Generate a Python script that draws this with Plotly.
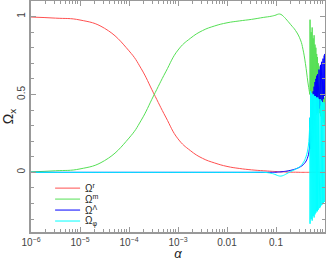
import plotly.graph_objects as go

# ---- smooth part (scale factor a) ----
a_smooth = [1e-6, 3.16e-6, 1e-5, 3.16e-5, 1e-4, 1.78e-4, 3.16e-4, 5.62e-4, 1e-3, 1.78e-3,
            3.16e-3, 5.62e-3, 1e-2, 1.78e-2, 3.16e-2, 5.62e-2, 0.0794, 0.1, 0.112, 0.126,
            0.141, 0.158, 0.2, 0.251, 0.316, 0.355, 0.398, 0.447, 0.479, 0.49]
omega_r_s = [0.997, 0.99, 0.978, 0.925, 0.78, 0.665, 0.51, 0.355, 0.215, 0.14,
             0.09, 0.06, 0.038, 0.025, 0.016, 0.01, 0.007, 0.005, 0.004, 0.003,
             0.003, 0.002, 0.001, 0.001, 0.0, 0.0, 0.0, 0.0, 0.0, 0.0]
omega_m_s = [0.003, 0.01, 0.022, 0.075, 0.22, 0.335, 0.49, 0.645, 0.785, 0.86,
             0.91, 0.94, 0.96, 0.972, 0.982, 0.995, 1.002, 1.010, 1.016, 1.014,
             1.002, 0.986, 0.948, 0.91, 0.85, 0.79, 0.70, 0.58, 0.52, 0.50]
omega_L_s = [0.0, 0.0, 0.0, 0.0, 0.0, 0.0, 0.0, 0.0, 0.0, 0.0,
             0.0, 0.0, 0.0, 0.0, 0.0, 0.0, 0.0, 0.001, 0.002, 0.003,
             0.005, 0.007, 0.013, 0.022, 0.036, 0.048, 0.065, 0.10, 0.15, 0.19]
omega_p_s = [0.0, 0.0, 0.0, 0.0, 0.0, 0.0, 0.0, 0.0, 0.0, 0.0,
             0.0, 0.0, 0.0, 0.0, 0.0, 0.0, -0.006, -0.016, -0.022, -0.024,
             -0.02, -0.012, 0.005, 0.02, 0.04, 0.06, 0.09, 0.15, 0.25, 0.35]

# ---- oscillating late-time part ----
a_osc = [0.49, 0.495, 0.508, 0.521, 0.534, 0.547, 0.560, 0.573, 0.586, 0.599, 0.612,
         0.625, 0.638, 0.651, 0.664, 0.677, 0.690, 0.703, 0.716, 0.729, 0.742,
         0.755, 0.768, 0.781, 0.794, 0.807, 0.820, 0.833, 0.846, 0.859, 0.872,
         0.885, 0.898, 0.911, 0.924, 0.937, 0.950, 0.963, 0.976, 0.989, 1.0]
omega_r_o = [0.0] * 41
omega_m_o = [0.50, 0.98, 0.48, 0.90, 0.47, 0.93, 0.46, 0.86, 0.45, 0.88, 0.44,
             0.82, 0.43, 0.80, 0.42, 0.76, 0.41, 0.74, 0.40, 0.70, 0.39,
             0.68, 0.38, 0.65, 0.37, 0.62, 0.36, 0.60, 0.35, 0.58, 0.34,
             0.56, 0.33, 0.54, 0.32, 0.52, 0.31, 0.50, 0.30, 0.48, 0.30]
omega_L_o = [0.19, 0.35, 0.15, 0.42, 0.20, 0.48, 0.25, 0.52, 0.30, 0.55, 0.33,
             0.58, 0.35, 0.60, 0.37, 0.62, 0.38, 0.63, 0.39, 0.65, 0.40,
             0.66, 0.41, 0.68, 0.42, 0.69, 0.43, 0.70, 0.44, 0.71, 0.45,
             0.72, 0.46, 0.73, 0.47, 0.74, 0.48, 0.75, 0.49, 0.76, 0.75]
omega_p_o = [0.35, -0.33, 0.52, -0.30, 0.51, -0.31, 0.50, -0.28, 0.50, -0.29, 0.49,
             -0.27, 0.49, -0.26, 0.48, -0.25, 0.48, -0.25, 0.48, -0.24, 0.47,
             -0.23, 0.47, -0.23, 0.47, -0.22, 0.46, -0.21, 0.46, -0.21, 0.46,
             -0.20, 0.45, -0.20, 0.45, -0.19, 0.45, -0.19, 0.45, -0.18, 0.44]

names = ["Ω<sup>r</sup>", "Ω<sup>m</sup>", "Ω<sup>Λ</sup>", "Ω<sub>φ</sub>"]
colors = ["#ff5050", "#55e055", "#0000ff", "#00ffff"]
series = [(omega_r_s, omega_r_o), (omega_m_s, omega_m_o),
          (omega_L_s, omega_L_o), (omega_p_s, omega_p_o)]

x_tickvals = [1e-6, 1e-5, 1e-4, 1e-3, 0.01, 0.1, 1]
x_ticktext = ["10<sup>−6</sup>", "10<sup>−5</sup>", "10<sup>−4</sup>",
              "10<sup>−3</sup>", "0.01", "0.1", "1"]
y_tickvals = [0, 0.5, 1]
y_ticktext = ["0", "0.5", "1"]

fig = go.Figure()
for name, col, (s, o) in zip(names, colors, series):
    fig.add_trace(go.Scatter(x=a_smooth, y=s, mode="lines", name=name,
                             line=dict(color=col, width=1, shape="spline", smoothing=1.3),
                             showlegend=False, hoverinfo="skip"))
    fig.add_trace(go.Scatter(x=a_osc, y=o, mode="lines", name=name,
                             line=dict(color=col, width=1), showlegend=False,
                             hoverinfo="skip"))

# manual legend
leg_y = [0.19, 0.1425, 0.095, 0.0475]
for name, col, yy in zip(names, colors, leg_y):
    fig.add_shape(type="line", xref="paper", yref="paper", x0=0.082, x1=0.167,
                  y0=yy, y1=yy, line=dict(color=col, width=1))
    fig.add_annotation(xref="paper", yref="paper", x=0.176, y=yy, text=name,
                       showarrow=False, xanchor="left", yanchor="middle",
                       font=dict(size=10, color="#222"))

axcol = "#999999"
fig.update_layout(
    width=326, height=261,
    margin=dict(l=31, r=1, t=1, b=29),
    paper_bgcolor="white", plot_bgcolor="white",
    font=dict(family="Liberation Sans, Arial, sans-serif", size=10, color="#333"),
    xaxis=dict(type="log", range=[-6, 0], tickvals=x_tickvals, ticktext=x_ticktext,
               automargin=False,
               ticks="inside", ticklen=5, tickcolor=axcol, showline=True, linecolor=axcol,
               linewidth=1.5, mirror="allticks", showgrid=False, zeroline=False,
               minor=dict(ticks="inside", ticklen=3, tickcolor=axcol, dtick="D1",
                          showgrid=False),
               title=dict(text="<i>α</i>", font=dict(size=13, color="#222"), standoff=0),
               tickfont=dict(size=10, color="#444")),
    yaxis=dict(range=[-0.383, 1.1], tickvals=y_tickvals, ticktext=y_ticktext,
               automargin=False,
               ticks="inside", ticklen=5, tickcolor=axcol, showline=True, linecolor=axcol,
               linewidth=1.5, mirror="allticks", showgrid=False, zeroline=False,
               tickangle=-90,
               minor=dict(ticks="inside", ticklen=3, tickcolor=axcol, dtick=0.1,
                          showgrid=False),
               title=dict(text="Ω<sub>x</sub>", font=dict(size=14, color="#222"), standoff=0),
               tickfont=dict(size=10, color="#444")),
)

fig.write_html("out.html", post_script="document.body.style.margin='0';",
               config={"displayModeBar": False})
